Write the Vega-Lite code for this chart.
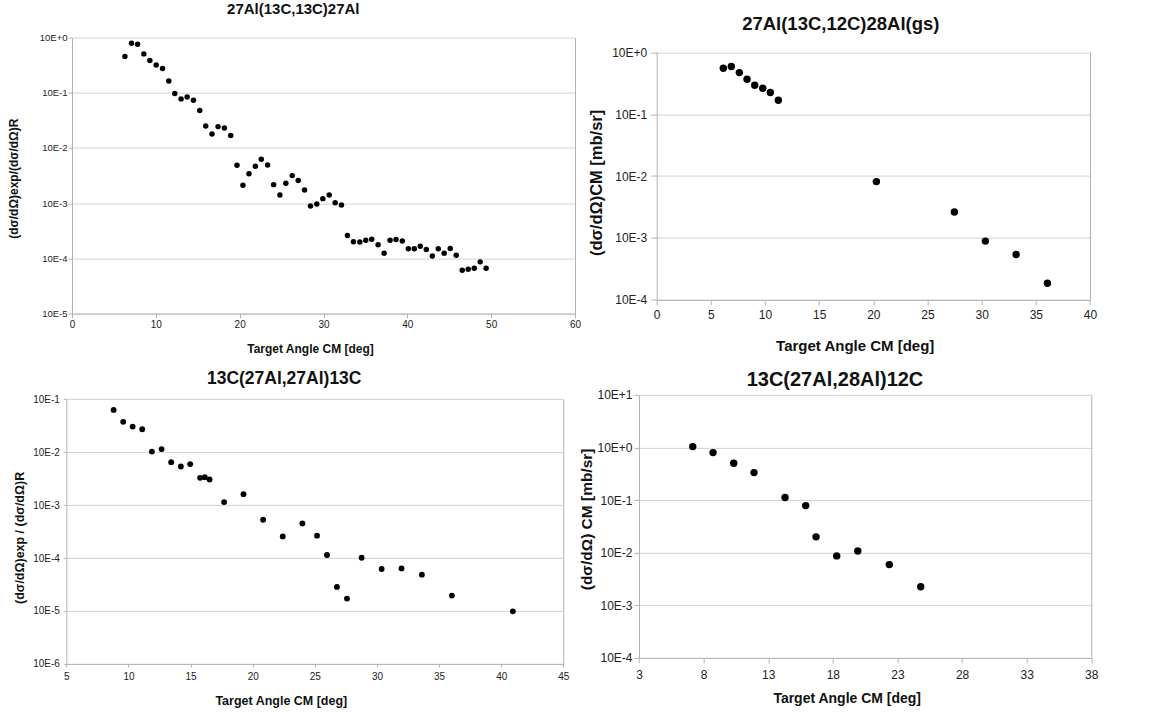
{
  "$schema": "https://vega.github.io/schema/vega-lite/v6.json",
  "background": "white",
  "padding": {"left": 7, "top": 1.6, "right": 5, "bottom": 5},
  "columns": 2,
  "spacing": {"row": 81.3, "column": 81.7},
  "bounds": "flush",
  "datasets": {
    "tl": [
      {"angle": 6.31, "xs": 0.453}, {"angle": 7.1, "xs": 0.79}, {"angle": 7.82, "xs": 0.76}, {"angle": 8.57, "xs": 0.507},
      {"angle": 9.29, "xs": 0.384}, {"angle": 10.04, "xs": 0.32}, {"angle": 10.8, "xs": 0.275}, {"angle": 11.55, "xs": 0.164},
      {"angle": 12.26, "xs": 0.0968}, {"angle": 13.01, "xs": 0.0776}, {"angle": 13.73, "xs": 0.0843}, {"angle": 14.49, "xs": 0.0735},
      {"angle": 15.24, "xs": 0.0476}, {"angle": 15.95, "xs": 0.0251}, {"angle": 16.7, "xs": 0.018}, {"angle": 17.42, "xs": 0.0244},
      {"angle": 18.18, "xs": 0.0231}, {"angle": 18.93, "xs": 0.0168}, {"angle": 19.68, "xs": 0.00488}, {"angle": 20.39, "xs": 0.00212},
      {"angle": 21.11, "xs": 0.0034}, {"angle": 21.87, "xs": 0.00468}, {"angle": 22.58, "xs": 0.00627}, {"angle": 23.33, "xs": 0.00494},
      {"angle": 24.05, "xs": 0.00217}, {"angle": 24.8, "xs": 0.00141}, {"angle": 25.51, "xs": 0.0023}, {"angle": 26.27, "xs": 0.00316},
      {"angle": 26.98, "xs": 0.00257}, {"angle": 27.74, "xs": 0.00174}, {"angle": 28.45, "xs": 0.000893}, {"angle": 29.2, "xs": 0.00097},
      {"angle": 29.92, "xs": 0.00121}, {"angle": 30.68, "xs": 0.00141}, {"angle": 31.39, "xs": 0.00102}, {"angle": 32.14, "xs": 0.00093},
      {"angle": 32.86, "xs": 0.000259}, {"angle": 33.57, "xs": 0.000201}, {"angle": 34.33, "xs": 0.000199}, {"angle": 35.04, "xs": 0.000214},
      {"angle": 35.75, "xs": 0.000223}, {"angle": 36.51, "xs": 0.000176}, {"angle": 37.23, "xs": 0.000124}, {"angle": 37.94, "xs": 0.000214},
      {"angle": 38.65, "xs": 0.000219}, {"angle": 39.4, "xs": 0.000207}, {"angle": 40.12, "xs": 0.000149}, {"angle": 40.83, "xs": 0.000149},
      {"angle": 41.55, "xs": 0.000166}, {"angle": 42.26, "xs": 0.000145}, {"angle": 42.98, "xs": 0.00011}, {"angle": 43.69, "xs": 0.000149},
      {"angle": 44.4, "xs": 0.000124}, {"angle": 45.12, "xs": 0.000151}, {"angle": 45.83, "xs": 0.000114}, {"angle": 46.55, "xs": 0.0000611},
      {"angle": 47.26, "xs": 0.0000637}, {"angle": 47.98, "xs": 0.0000664}, {"angle": 48.69, "xs": 0.0000865}, {"angle": 49.4, "xs": 0.0000664}
    ],
    "tr": [
      {"angle": 6.15, "xs": 0.551}, {"angle": 6.89, "xs": 0.586}, {"angle": 7.63, "xs": 0.468}, {"angle": 8.34, "xs": 0.366},
      {"angle": 9.05, "xs": 0.292}, {"angle": 9.79, "xs": 0.262}, {"angle": 10.49, "xs": 0.223}, {"angle": 11.23, "xs": 0.168},
      {"angle": 20.28, "xs": 0.00813}, {"angle": 27.48, "xs": 0.00263}, {"angle": 30.34, "xs": 0.00089}, {"angle": 33.18, "xs": 0.00054},
      {"angle": 36.07, "xs": 0.000186}
    ],
    "bl": [
      {"angle": 8.81, "xs": 0.0628}, {"angle": 9.58, "xs": 0.0373}, {"angle": 10.34, "xs": 0.0304}, {"angle": 11.11, "xs": 0.0271},
      {"angle": 11.89, "xs": 0.01026}, {"angle": 12.67, "xs": 0.0114}, {"angle": 13.44, "xs": 0.00647}, {"angle": 14.22, "xs": 0.00535},
      {"angle": 14.97, "xs": 0.00594}, {"angle": 15.77, "xs": 0.00327}, {"angle": 16.15, "xs": 0.00337}, {"angle": 16.53, "xs": 0.00304},
      {"angle": 17.7, "xs": 0.00114}, {"angle": 19.26, "xs": 0.00161}, {"angle": 20.84, "xs": 0.000528}, {"angle": 22.42, "xs": 0.000256},
      {"angle": 24.0, "xs": 0.00045}, {"angle": 25.18, "xs": 0.000264}, {"angle": 25.98, "xs": 0.000114}, {"angle": 26.78, "xs": 0.0000284},
      {"angle": 27.59, "xs": 0.0000171}, {"angle": 28.77, "xs": 0.000101}, {"angle": 30.38, "xs": 0.000062}, {"angle": 31.98, "xs": 0.0000637},
      {"angle": 33.62, "xs": 0.0000484}, {"angle": 36.03, "xs": 0.0000195}, {"angle": 40.94, "xs": 0.00000985}
    ],
    "br": [
      {"angle": 7.16, "xs": 1.04}, {"angle": 8.73, "xs": 0.8}, {"angle": 10.33, "xs": 0.502}, {"angle": 11.9, "xs": 0.333},
      {"angle": 14.3, "xs": 0.1117}, {"angle": 15.9, "xs": 0.0786}, {"angle": 16.7, "xs": 0.02}, {"angle": 18.3, "xs": 0.0087},
      {"angle": 19.93, "xs": 0.0108}, {"angle": 22.37, "xs": 0.00594}, {"angle": 24.8, "xs": 0.00226}
    ]
  },
  "concat": [
    {
      "width": 503, "height": 276,
      "data": {"name": "tl"},
      "title": {"text": "27Al(13C,13C)27Al", "fontSize": 15, "dx": -30.2, "offset": 15.1},
      "layer": [
        {
          "mark": {"type": "circle", "size": 30, "color": "#000000", "opacity": 1},
          "encoding": {
            "x": {"field": "angle", "type": "quantitative",
              "scale": {"domain": [0, 60], "nice": false, "zero": false},
              "axis": {"values": [0, 10, 20, 30, 40, 50, 60], "grid": false, "tickSize": 4, "labelPadding": 2, "labelFontSize": 10,
                "title": "Target Angle CM [deg]", "titleFontSize": 12, "titleX": 238, "titleY": 38.6, "titleBaseline": "alphabetic"}},
            "y": {"field": "xs", "type": "quantitative",
              "scale": {"type": "log", "domain": [0.00001, 1], "nice": false},
              "axis": {"values": [0.00001, 0.0001, 0.001, 0.01, 0.1, 1],
                "labelExpr": "'10E' + (datum.value >= 1 ? '+' : '') + round(log(datum.value) / LN10)",
                "tickSize": 4, "labelPadding": 1, "labelFontSize": 9.5,
                "title": "(dσ/dΩ)exp/(dσ/dΩ)R", "titleFontSize": 12, "titleAngle": 270, "titleX": -54.5, "titleY": 140.6, "titleBaseline": "alphabetic"}}
          }
        },
        {
          "mark": {"type": "circle", "opacity": 0},
          "encoding": {
            "y": {"field": "xs", "type": "quantitative",
              "axis": {"orient": "right", "labels": false, "ticks": false, "grid": false, "title": null, "domain": true}}
          }
        }
      ],
      "resolve": {"axis": {"y": "independent"}}
    },
    {
      "width": 433.3, "height": 262.3,
      "data": {"name": "tr"},
      "title": {"text": "27Al(13C,12C)28Al(gs)", "fontSize": 18.5, "dx": -32.55, "offset": 4.1},
      "layer": [
        {
          "mark": {"type": "circle", "size": 55, "color": "#000000", "opacity": 1},
          "encoding": {
            "x": {"field": "angle", "type": "quantitative",
              "scale": {"domain": [0, 40], "nice": false, "zero": false},
              "axis": {"values": [0, 5, 10, 15, 20, 25, 30, 35, 40], "grid": false, "tickSize": 5, "labelPadding": 5, "labelFontSize": 12,
                "title": "Target Angle CM [deg]", "titleFontSize": 15, "titleX": 198, "titleY": 51, "titleBaseline": "alphabetic"}},
            "y": {"field": "xs", "type": "quantitative",
              "scale": {"type": "log", "domain": [0.0001, 1], "nice": false, "range": [262.3, 14.6]},
              "axis": {"values": [0.0001, 0.001, 0.01, 0.1, 1],
                "labelExpr": "'10E' + (datum.value >= 1 ? '+' : '') + round(log(datum.value) / LN10)",
                "tickSize": 6, "labelPadding": 4, "labelFontSize": 12,
                "title": "(dσ/dΩ)CM [mb/sr]", "titleFontSize": 16.5, "titleAngle": 270, "titleX": -54.7, "titleY": 144.8, "titleBaseline": "alphabetic"}}
          }
        },
        {
          "mark": {"type": "circle", "opacity": 0},
          "encoding": {
            "y": {"field": "xs", "type": "quantitative",
              "axis": {"orient": "right", "labels": false, "ticks": false, "grid": false, "title": null, "domain": true}}
          }
        }
      ],
      "resolve": {"axis": {"y": "independent"}}
    },
    {
      "width": 491.3, "height": 269,
      "data": {"name": "bl"},
      "title": {"text": "13C(27Al,27Al)13C", "fontSize": 17.5, "dx": -33.45, "offset": 6.7},
      "layer": [
        {
          "mark": {"type": "circle", "size": 34, "color": "#000000", "opacity": 1},
          "encoding": {
            "x": {"field": "angle", "type": "quantitative",
              "scale": {"domain": [5, 45], "nice": false, "zero": false, "range": [-5.7, 491.3]},
              "axis": {"values": [5, 10, 15, 20, 25, 30, 35, 40, 45], "grid": false, "tickSize": 3, "labelPadding": 5, "labelFontSize": 10,
                "title": "Target Angle CM [deg]", "titleFontSize": 12.5, "titleX": 208.8, "titleY": 41, "titleBaseline": "alphabetic"}},
            "y": {"field": "xs", "type": "quantitative",
              "scale": {"type": "log", "domain": [0.000001, 0.1], "nice": false, "range": [269, 4.3]},
              "axis": {"values": [0.000001, 0.00001, 0.0001, 0.001, 0.01, 0.1], "offset": 5.7,
                "labelExpr": "'10E' + (datum.value >= 1 ? '+' : '') + round(log(datum.value) / LN10)",
                "tickSize": 3, "labelPadding": 4, "labelFontSize": 10,
                "title": "(dσ/dΩ)exp / (dσ/dΩ)R", "titleFontSize": 12.5, "titleAngle": 270, "titleX": -42.8, "titleY": 142.5, "titleBaseline": "alphabetic"}}
          }
        },
        {
          "mark": {"type": "circle", "opacity": 0},
          "encoding": {
            "y": {"field": "xs", "type": "quantitative",
              "axis": {"orient": "right", "labels": false, "ticks": false, "grid": false, "title": null, "domain": true}}
          }
        }
      ],
      "resolve": {"axis": {"y": "independent"}}
    },
    {
      "width": 434.6, "height": 263,
      "data": {"name": "br"},
      "title": {"text": "13C(27Al,28Al)12C", "fontSize": 20, "dx": -39, "offset": -1.3},
      "layer": [
        {
          "mark": {"type": "circle", "size": 55, "color": "#000000", "opacity": 1},
          "encoding": {
            "x": {"field": "angle", "type": "quantitative",
              "scale": {"domain": [3, 38], "nice": false, "zero": false, "range": [-17.7, 434.6]},
              "axis": {"values": [3, 8, 13, 18, 23, 28, 33, 38], "grid": false, "tickSize": 5, "labelPadding": 6.5, "labelFontSize": 12,
                "title": "Target Angle CM [deg]", "titleFontSize": 14, "titleX": 190, "titleY": 45, "titleBaseline": "alphabetic"}},
            "y": {"field": "xs", "type": "quantitative",
              "scale": {"type": "log", "domain": [0.0001, 10], "nice": false},
              "axis": {"values": [0.0001, 0.001, 0.01, 0.1, 1, 10], "offset": 17.7,
                "labelExpr": "'10E' + (datum.value >= 1 ? '+' : '') + round(log(datum.value) / LN10)",
                "tickSize": 5, "labelPadding": 2, "labelFontSize": 12,
                "title": "(dσ/dΩ) CM [mb/sr]", "titleFontSize": 15.5, "titleAngle": 270, "titleX": -47, "titleY": 124, "titleBaseline": "alphabetic"}}
          }
        },
        {
          "mark": {"type": "circle", "opacity": 0},
          "encoding": {
            "y": {"field": "xs", "type": "quantitative",
              "axis": {"orient": "right", "labels": false, "ticks": false, "grid": false, "title": null, "domain": true}}
          }
        }
      ],
      "resolve": {"axis": {"y": "independent"}}
    }
  ],
  "config": {
    "view": {"stroke": null},
    "font": "Liberation Sans",
    "axis": {
      "labelFont": "Liberation Sans", "titleFont": "Liberation Sans",
      "labelColor": "#222222", "titleColor": "#111111", "titleFontWeight": "bold",
      "domainColor": "#b3b3b3", "tickColor": "#b3b3b3", "gridColor": "#d3d3d3",
      "labelFlush": false, "domainWidth": 1, "gridWidth": 1
    },
    "title": {"font": "Liberation Sans", "fontWeight": "bold", "color": "#111111", "anchor": "middle", "frame": "group", "baseline": "alphabetic"}
  }
}
